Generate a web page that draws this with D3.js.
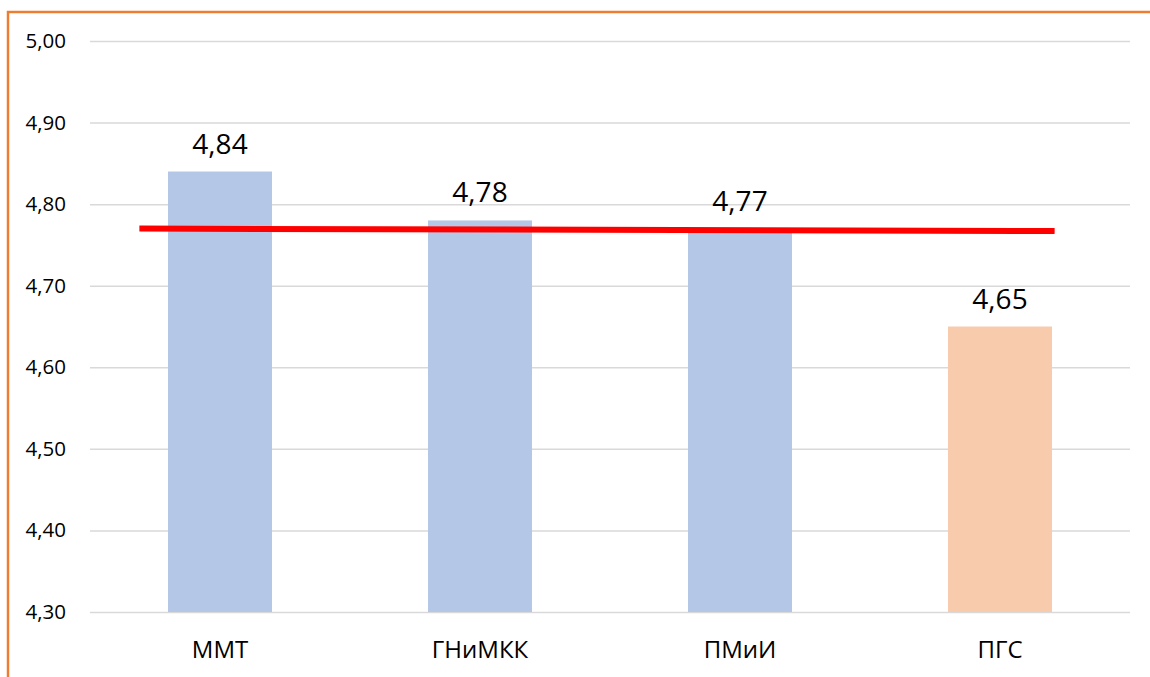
<!DOCTYPE html>
<html>
<head>
<meta charset="utf-8">
<script src="https://cdn.jsdelivr.net/npm/d3@7"></script>
<style>
  body { margin: 0; background: #fff; }
  svg { display: block; }
</style>
</head>
<body>
<script>
// data
let categories = ["ММТ", "ГНиМКК", "ПМиИ", "ПГС"]
let values = [4.84, 4.78, 4.77, 4.65]
let barColors = ["#B4C7E7", "#B4C7E7", "#B4C7E7", "#F8CBAD"]
let yTicks = [4.3, 4.4, 4.5, 4.6, 4.7, 4.8, 4.9, 5.0]
// red average line: position in category units and value at each end
let avgPos = [0.19, 3.71]
let avgVal = [4.770, 4.767]

let w = 1150, h = 677
let font = "'Open Sans', 'Noto Sans', sans-serif"

let svg = d3.select("body")
    .append("svg")
    .attr("width", w)
    .attr("height", h)

// orange frame
svg.append("rect")
    .attr("x", 8)
    .attr("y", 12)
    .attr("width", w + 20)
    .attr("height", h + 20)
    .attr("fill", "none")
    .attr("stroke", "#ED7D31")
    .attr("stroke-width", 2.5)

let plotL = 90, plotR = 1130, plotT = 41, plotB = 612

let x = d3.scaleBand()
    .domain(categories)
    .range([plotL, plotR])
    .paddingInner(0.6)
    .paddingOuter(0.3)

let xPos = d3.scaleLinear()
    .domain([0, categories.length])
    .range([plotL, plotR])

let y = d3.scaleLinear()
    .domain([4.3, 5.0])
    .range([plotB, plotT])

let fmt = v => d3.format(".2f")(v).replace(".", ",")

// grid + tick labels
let yAxis = d3.axisLeft(y)
    .tickValues(yTicks)
    .tickSize(-(plotR - plotL))
    .tickPadding(24)
    .tickFormat(fmt)

let gy = svg.append("g")
    .attr("transform", "translate(" + plotL + ",0)")
    .call(yAxis)
gy.select(".domain").remove()
gy.selectAll(".tick line")
    .attr("stroke", "#D9D9D9")
    .attr("stroke-width", 1.5)
gy.selectAll(".tick text")
    .attr("font-family", font)
    .style("font-size", "20.5px")
    .attr("fill", "#000")

// bars
svg.selectAll(".bar")
    .data(values)
    .enter()
    .append("rect")
    .attr("class", "bar")
    .attr("x", (d, i) => x(categories[i]))
    .attr("width", x.bandwidth())
    .attr("y", d => y(d))
    .attr("height", d => y(4.3) - y(d))
    .attr("fill", (d, i) => barColors[i])

// value labels
svg.selectAll(".val")
    .data(values)
    .enter()
    .append("text")
    .attr("class", "val")
    .attr("x", (d, i) => x(categories[i]) + x.bandwidth() / 2)
    .attr("y", d => y(d) - 18)
    .attr("text-anchor", "middle")
    .attr("font-family", font)
    .style("font-size", "28px")
    .attr("fill", "#000")
    .text(fmt)

// category labels
let xAxis = d3.axisBottom(x).tickSize(0).tickPadding(29)
let gx = svg.append("g")
    .attr("transform", "translate(0," + plotB + ")")
    .call(xAxis)
gx.select(".domain").remove()
gx.selectAll(".tick text")
    .attr("font-family", font)
    .style("font-size", "24px")
    .attr("fill", "#000")

// red average line
svg.append("line")
    .attr("x1", xPos(avgPos[0]))
    .attr("x2", xPos(avgPos[1]))
    .attr("y1", y(avgVal[0]))
    .attr("y2", y(avgVal[1]))
    .attr("stroke", "#FF0000")
    .attr("stroke-width", 6)
</script>
</body>
</html>
